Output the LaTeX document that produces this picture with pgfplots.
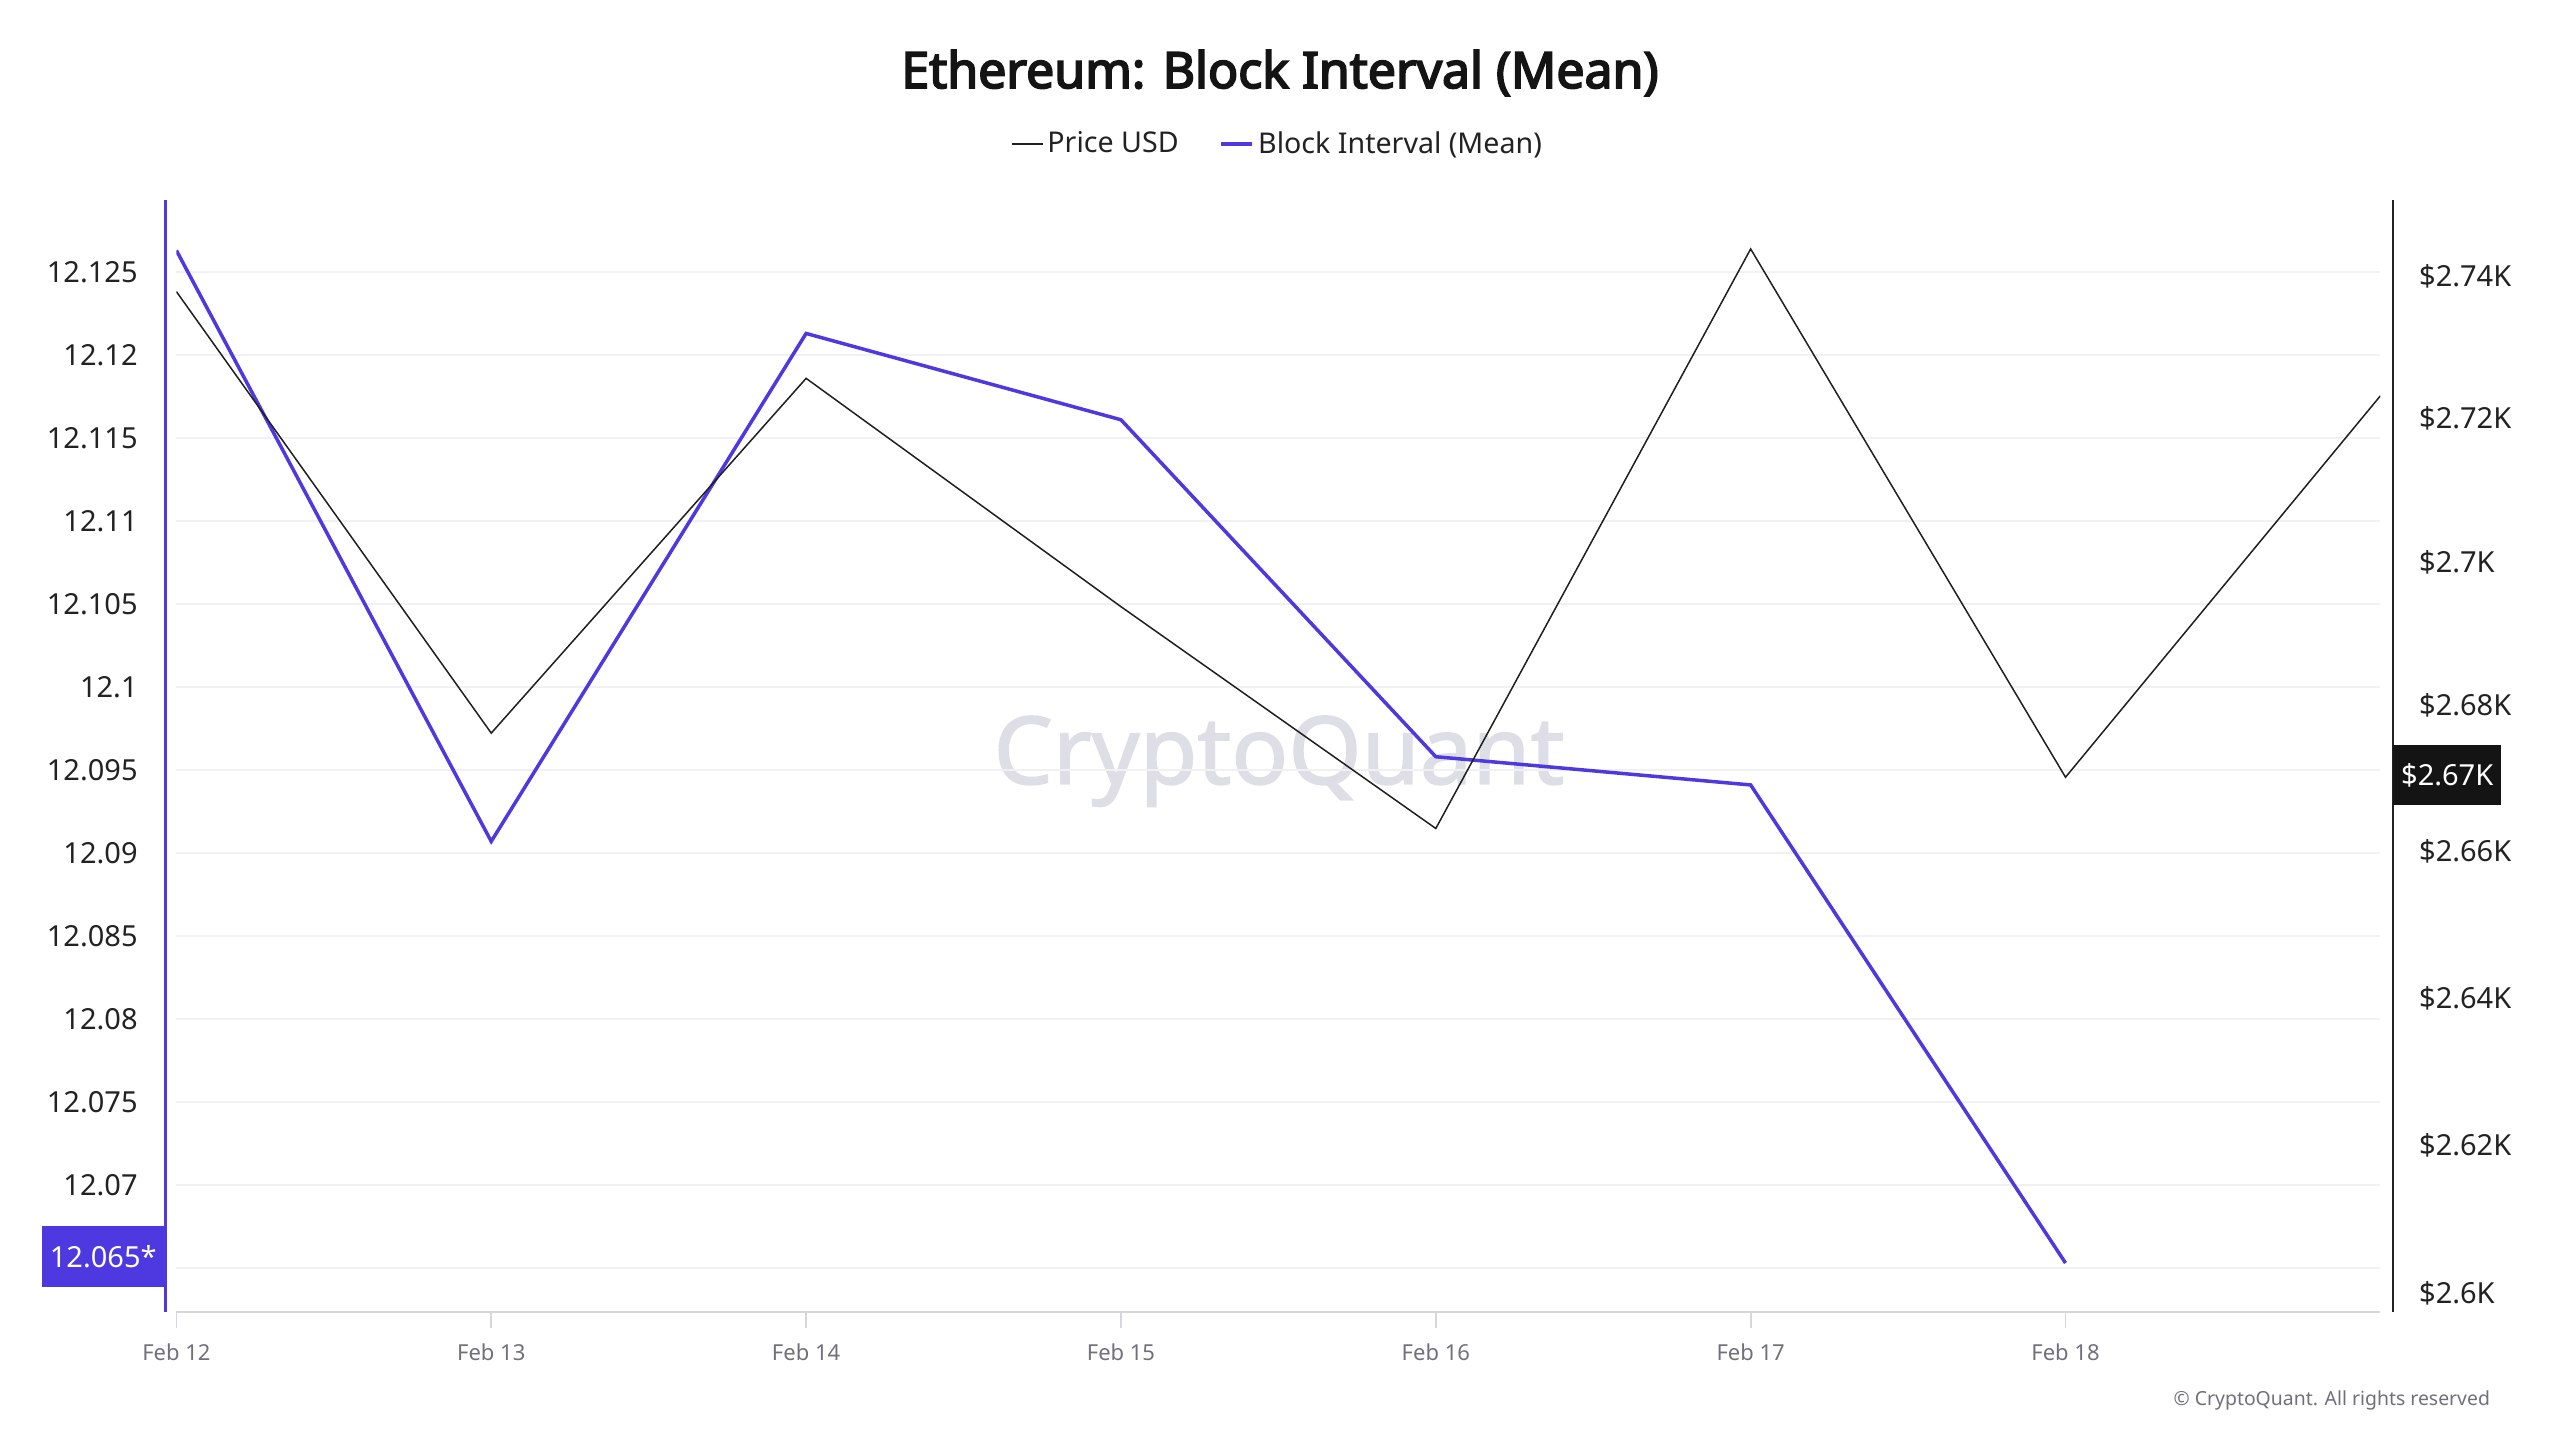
\documentclass[border=0pt]{standalone}
\usepackage{pgfplots}
\pgfplotsset{compat=1.18}
\usepackage{fontspec}
\setmainfont{Noto Sans}
\newfontfamily\titlefont{Noto Sans}[AutoFakeBold=3.6]
\newfontfamily\wmfont{Noto Sans}[AutoFakeBold=1.6]

\definecolor{bintv}{HTML}{4E38E0}
\definecolor{gridgray}{HTML}{F1F1F4}
\definecolor{axisgray}{HTML}{D6D6DE}
\definecolor{xlab}{HTML}{70707A}
\definecolor{ylab}{HTML}{222222}
\definecolor{wmark}{HTML}{DEDEE6}

\begin{document}
\begin{tikzpicture}
\useasboundingbox (0,0) rectangle (1280pt,720pt);

% title and watermark
\node[font=\titlefont\bfseries\fontsize{25}{29}\selectfont, text=black!92] at (640pt,683.5pt) {Ethereum: Block Interval (Mean)};
\node[font=\wmfont\bfseries\fontsize{47}{56}\selectfont, text=wmark, anchor=base] at (639.5pt,328pt) {CryptoQuant};
\node[font=\fontsize{9.7}{12}\selectfont, text=xlab, anchor=base east] at (1248.5pt,17pt) {© CryptoQuant. All rights reserved};

% left axis: block interval
\begin{axis}[
  at={(88.2pt,64pt)}, anchor=south west,
  width=1102pt, height=556pt, scale only axis,
  xmin=0, xmax=7,
  ymin=12.06235, ymax=12.12934,
  axis x line*=bottom, axis y line*=left,
  x axis line style={-, draw=axisgray, line width=0.9pt},
  y axis line style={-, draw=bintv, line width=1.5pt, xshift=-5.7pt},
  xtick={0,1,2,3,4,5,6},
  xticklabels={Feb 12,Feb 13,Feb 14,Feb 15,Feb 16,Feb 17,Feb 18},
  xtick align=outside, major tick length=8pt,
  xtick style={draw=axisgray, line width=0.9pt},
  xticklabel style={font=\fontsize{11}{13}\selectfont, text=xlab, anchor=base, inner sep=0pt, yshift=-16.25pt},
  ytick={12.065,12.07,12.075,12.08,12.085,12.09,12.095,12.1,12.105,12.11,12.115,12.12,12.125},
  yticklabels={,12.07,12.075,12.08,12.085,12.09,12.095,12.1,12.105,12.11,12.115,12.12,12.125},
  ytick style={draw=none},
  yticklabel style={font=\fontsize{14.5}{17}\selectfont, text=ylab, anchor=east, inner sep=0pt, xshift=-19.2pt},
  ymajorgrids, grid style={draw=gridgray, line width=0.75pt},
  extra y ticks={12.0657},
  extra y tick labels={12.065*},
  extra y tick style={ymajorgrids=false, yticklabel style={fill=bintv, text=white, anchor=east, inner xsep=4pt, inner ysep=0pt, minimum height=30.5pt, xshift=13.5pt}},
]
\addplot[bintv, line width=1.75pt] coordinates {
  (0,12.1263) (1,12.0907) (2,12.1213) (3,12.1161) (4,12.0958) (5,12.0941) (6,12.0653)
};
\end{axis}

% right axis: price in thousands USD (log scale)
\begin{axis}[
  at={(88.2pt,64pt)}, anchor=south west,
  width=1102pt, height=556pt, scale only axis,
  xmin=0, xmax=7,
  ymode=log, ymin=2.5976, ymax=2.7509,
  axis x line=none, axis y line*=right,
  y axis line style={-, draw=ylab, line width=1.2pt, xshift=6.2pt},
  ytick={2.6,2.62,2.64,2.66,2.68,2.7,2.72,2.74},
  yticklabels={\$2.6K,\$2.62K,\$2.64K,\$2.66K,\$2.68K,\$2.7K,\$2.72K,\$2.74K},
  ytick style={draw=none},
  yticklabel style={font=\fontsize{14.5}{17}\selectfont, text=ylab, anchor=west, inner sep=0pt, xshift=19.2pt},
  extra y ticks={2.6705},
  extra y tick labels={\$2.67K},
  extra y tick style={yticklabel style={fill=black!92, text=white, anchor=west, inner xsep=4pt, inner ysep=0pt, minimum height=30pt, xshift=-13pt}},
  legend style={at={(0.5,1)}, anchor=center, yshift=28pt, draw=none, fill=none,
    font=\fontsize{14.3}{17}\selectfont, text=ylab, legend columns=2,
    /tikz/every even column/.append style={column sep=18.5pt}},
  legend image code/.code={\draw[#1] (0pt,0pt) -- (15.5pt,0pt);},
]
\addplot[black!88, line width=0.75pt] coordinates {
  (0,2.7379) (1,2.6763) (2,2.7256) (3,2.6938) (4,2.6631) (5,2.7438) (6,2.6701) (7,2.7232)
};
\addlegendentry{Price USD}
\addlegendimage{bintv, line width=1.75pt}
\addlegendentry{Block Interval (Mean)}
\end{axis}
\end{tikzpicture}
\end{document}
